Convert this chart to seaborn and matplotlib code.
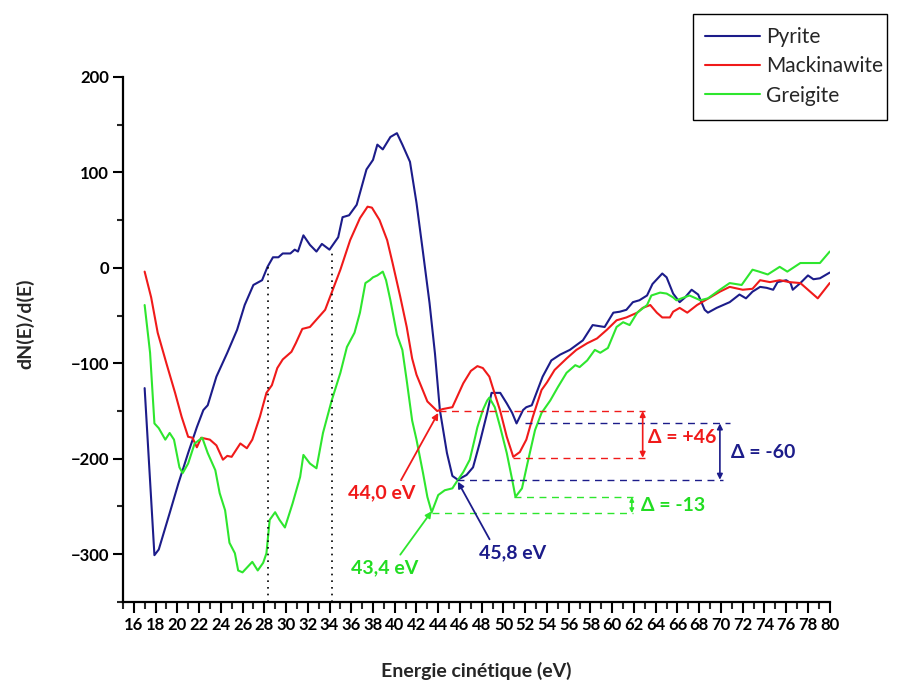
import numpy as np
import pandas as pd
import matplotlib
matplotlib.use("Agg")
import matplotlib.pyplot as plt
import seaborn as sns
from matplotlib.ticker import MultipleLocator
from matplotlib.patches import Rectangle

# ---------------- data ----------------
pyrite_x = [17.0, 17.9, 18.3, 19.3, 20.1, 21.0, 21.8, 22.4, 22.8, 23.6,
            24.6, 25.5, 26.2, 27.0, 27.8, 28.3, 28.8, 29.3, 29.7, 30.4,
            30.8, 31.1, 31.6, 32.2, 32.8, 33.3, 34.0, 34.8, 35.2, 35.8,
            36.5, 37.4, 38.0, 38.4, 38.9, 39.6, 40.2, 40.7, 41.4, 42.0,
            42.6, 43.2, 43.7, 44.15, 44.8, 45.3, 45.8, 46.6, 47.2, 47.8,
            48.5, 48.9, 49.7, 50.3, 50.8, 51.2, 51.8, 52.1, 52.6, 53.6,
            54.4, 55.2, 56.1, 57.3, 58.2, 59.3, 60.1, 60.7, 61.3, 61.9,
            62.5, 63.2, 63.7, 64.6, 65.0, 65.6, 66.2, 66.7, 67.3, 67.9,
            68.5, 68.8, 69.6, 70.8, 71.7, 72.3, 72.9, 73.6, 74.2, 74.8,
            75.2, 76.0, 76.4, 76.6, 77.3, 78.0, 78.5, 79.1, 80.0]
pyrite_y = [-126, -301, -295, -257, -226, -194, -167, -149, -144, -114,
            -89, -65, -39, -18, -13, 1, 11, 11, 15, 15,
            19, 17, 34, 24, 17, 25, 19, 32, 53, 55,
            66, 103, 113, 129, 124, 137, 141, 129, 111, 68,
            16, -37, -90, -149, -194, -218, -222, -217, -209, -184,
            -152, -131, -131, -142, -152, -163, -149, -146, -144, -114,
            -97, -91, -86, -76, -60, -62, -47, -46, -44, -36,
            -34, -29, -17, -6, -10, -27, -36, -31, -23, -28,
            -44, -47, -42, -36, -28, -32, -25, -20, -21, -23,
            -15, -13, -16, -23, -16, -8, -12, -11, -5]

mack_x = [17.0, 17.6, 18.2, 19.0, 19.8, 20.4, 21.0, 21.4, 21.8, 22.2,
          23.0, 23.6, 24.2, 24.6, 25.0, 25.8, 26.4, 26.9, 27.6, 28.2,
          28.7, 29.2, 29.7, 30.5, 30.9, 31.5, 32.2, 32.9, 33.6, 34.2,
          35.0, 35.9, 36.8, 37.5, 37.9, 38.6, 39.3, 39.8, 40.5, 41.1,
          41.6, 42.0, 43.0, 43.9, 44.4, 45.3, 46.3, 47.0, 47.6, 48.1,
          48.7, 49.0, 49.7, 50.3, 50.9, 51.5, 52.1, 52.7, 53.5, 54.0,
          54.7, 55.8, 56.7, 57.7, 58.6, 59.5, 60.4, 61.3, 62.3, 62.8,
          63.5, 64.1, 64.6, 65.3, 65.6, 66.2, 66.9, 67.8, 69.0, 69.9,
          70.8, 72.0, 72.9, 73.6, 74.5, 75.4, 76.3, 77.3, 78.2, 78.9, 80.0]
mack_y = [-4, -31, -68, -100, -131, -156, -177, -178, -188, -178,
          -180, -186, -201, -197, -198, -184, -189, -180, -156, -131,
          -123, -105, -96, -88, -79, -64, -62, -53, -44, -26,
          -2, 29, 52, 64, 63, 50, 29, 5, -30, -62,
          -95, -112, -140, -150, -148, -146, -121, -108, -103, -105,
          -114, -125, -150, -177, -198, -193, -180, -156, -128, -120,
          -107, -95, -86, -79, -74, -65, -55, -52, -47, -42,
          -39, -47, -52, -52, -46, -42, -47, -39, -31, -25,
          -20, -23, -22, -13, -15, -13, -15, -16, -25, -32, -16]

greig_x = [17.0, 17.5, 17.9, 18.3, 18.9, 19.3, 19.7, 20.2, 20.5, 21.0,
           21.6, 22.3, 22.8, 23.5, 23.9, 24.4, 24.8, 25.3, 25.6, 26.0,
           26.9, 27.4, 27.9, 28.2, 28.5, 29.0, 29.4, 29.9, 30.6, 31.3,
           31.6, 32.2, 32.8, 33.4, 33.8, 34.2, 35.0, 35.6, 36.3, 36.8,
           37.3, 37.7, 38.0, 38.4, 38.9, 39.2, 39.6, 40.2, 40.7, 41.1,
           41.6, 42.0, 42.6, 43.0, 43.4, 44.0, 44.6, 45.3, 45.7, 46.3,
           46.9, 47.4, 47.6, 48.1, 48.5, 48.7, 49.2, 49.7, 50.3, 50.8,
           51.1, 51.7, 52.2, 52.9, 53.5, 54.3, 55.0, 55.8, 56.6, 57.0,
           57.7, 58.4, 58.9, 59.6, 60.4, 61.0, 61.6, 62.3, 63.2, 63.6,
           64.4, 65.0, 65.6, 65.9, 67.1, 68.1, 68.8, 69.9, 70.8, 71.9,
           72.9, 73.5, 74.3, 75.4, 76.1, 77.3, 78.2, 79.1, 80.0]
greig_y = [-39, -89, -163, -168, -180, -173, -180, -209, -215, -205,
           -184, -178, -194, -212, -236, -254, -288, -299, -317, -319,
           -308, -317, -309, -299, -264, -256, -264, -272, -247, -219,
           -196, -205, -210, -173, -156, -139, -110, -83, -68, -47,
           -16, -13, -10, -8, -4, -13, -34, -70, -86, -118,
           -160, -180, -215, -240, -256, -238, -233, -231, -224, -214,
           -201, -177, -167, -149, -139, -136, -146, -167, -194, -222,
           -240, -231, -205, -170, -152, -139, -125, -110, -102, -104,
           -97, -86, -89, -84, -62, -57, -60, -47, -39, -29,
           -26, -27, -31, -34, -29, -34, -32, -23, -16, -18,
           -2, -4, -7, 1, -4, 5, 5, 5, 17]

series_names = ["Pyrite", "Mackinawite", "Greigite"]
x_ticks = list(range(16, 81, 2))
y_ticks = [-300, -200, -100, 0, 100, 200]

# ---------------- styling ----------------
sns.set_theme(style="ticks")
plt.rcParams["font.family"] = ["Lato", "DejaVu Sans"]

C_BLUE = "#1c1c8a"
C_RED = "#f01a1a"
C_GREEN = "#2ee62e"
C_GREEN_TXT = "#22dd22"
palette = {"Pyrite": C_BLUE, "Mackinawite": C_RED, "Greigite": C_GREEN}

df = pd.concat([
    pd.DataFrame({"E": pyrite_x, "v": pyrite_y, "s": "Pyrite"}),
    pd.DataFrame({"E": mack_x, "v": mack_y, "s": "Mackinawite"}),
    pd.DataFrame({"E": greig_x, "v": greig_y, "s": "Greigite"}),
], ignore_index=True)

W, H = 897, 686
fig = plt.figure(figsize=(W / 100, H / 100), dpi=100)
ax = fig.add_axes([0.137, 0.1225, 0.788, 0.7655])

sns.lineplot(data=df, x="E", y="v", hue="s", hue_order=series_names,
             palette=palette, estimator=None, sort=False, linewidth=1.5,
             ax=ax)

ax.set_xlim(15, 80)
ax.set_ylim(-350, 200)
ax.set_xticks(x_ticks)
ax.xaxis.set_minor_locator(MultipleLocator(1))
ax.set_yticks(y_ticks)
ax.yaxis.set_minor_locator(MultipleLocator(50))

for s in ["top", "right"]:
    ax.spines[s].set_visible(False)
for s in ["left", "bottom"]:
    ax.spines[s].set_linewidth(1.6)
    ax.spines[s].set_color("black")

ax.tick_params(axis="x", which="major", direction="out", length=8, width=1.5,
               labelsize=12, pad=3, colors="black")
ax.tick_params(axis="x", which="minor", direction="out", length=5, width=1.5)
ax.tick_params(axis="y", which="major", direction="out", length=7, width=1.5,
               labelsize=12, pad=3, colors="black")
ax.tick_params(axis="y", which="minor", direction="out", length=4, width=1.5)
for lab in ax.get_xticklabels() + ax.get_yticklabels():
    lab.set_fontweight("bold")

ax.set_xlabel("Energie cinétique (eV)", fontsize=14, fontweight="bold")
ax.set_ylabel("dN(E)/d(E)", fontsize=14, fontweight="bold")
ax.xaxis.set_label_coords(0.5, -0.115)
ax.yaxis.set_label_coords(-0.125, 0.53)

# dotted vertical markers
ax.vlines(28.3, -350, 3, colors="black", linestyles=(0, (1, 3)), linewidth=1.2)
ax.vlines(34.2, -350, 20, colors="black", linestyles=(0, (1, 3)), linewidth=1.2)

dash = (0, (5, 4))
# Mackinawite
ax.hlines(-150, 44.1, 63.0, colors=C_RED, linestyles=dash, linewidth=1.0)
ax.hlines(-199, 50.9, 63.0, colors=C_RED, linestyles=dash, linewidth=1.0)
ax.annotate("", xy=(62.8, -150), xytext=(62.8, -199),
            arrowprops=dict(arrowstyle="<|-|>", color=C_RED, lw=1.2,
                            mutation_scale=8, shrinkA=0, shrinkB=0))
ax.text(63.3, -178, "Δ = +46", color=C_RED, fontsize=14, fontweight="bold",
        va="center", ha="left")
# Pyrite
ax.hlines(-163, 52.0, 70.8, colors=C_BLUE, linestyles=dash, linewidth=1.0)
ax.hlines(-222, 45.7, 70.2, colors=C_BLUE, linestyles=dash, linewidth=1.0)
ax.annotate("", xy=(69.9, -163), xytext=(69.9, -222),
            arrowprops=dict(arrowstyle="<|-|>", color=C_BLUE, lw=1.2,
                            mutation_scale=8, shrinkA=0, shrinkB=0))
ax.text(70.9, -193, "Δ = -60", color=C_BLUE, fontsize=14, fontweight="bold",
        va="center", ha="left")
# Greigite
ax.hlines(-240, 51.0, 61.9, colors=C_GREEN, linestyles=dash, linewidth=1.0)
ax.hlines(-257, 43.4, 61.9, colors=C_GREEN, linestyles=dash, linewidth=1.0)
ax.annotate("", xy=(61.8, -240), xytext=(61.8, -257),
            arrowprops=dict(arrowstyle="<|-|>", color=C_GREEN, lw=1.2,
                            mutation_scale=6, shrinkA=0, shrinkB=0))
ax.text(62.6, -249, "Δ = -13", color=C_GREEN_TXT, fontsize=14, fontweight="bold",
        va="center", ha="left")

# energy labels with arrows
ax.annotate("44,0 eV", xy=(44.0, -152), xytext=(38.8, -236),
            color=C_RED, fontsize=14, fontweight="bold", ha="center", va="center",
            arrowprops=dict(arrowstyle="-|>", color=C_RED, lw=1.3,
                            mutation_scale=9, shrinkA=1, shrinkB=0,
                            relpos=(0.75, 1.0)))
ax.annotate("43,4 eV", xy=(43.4, -255), xytext=(39.1, -314),
            color=C_GREEN_TXT, fontsize=14, fontweight="bold", ha="center", va="center",
            arrowprops=dict(arrowstyle="-|>", color=C_GREEN, lw=1.3,
                            mutation_scale=9, shrinkA=1, shrinkB=0,
                            relpos=(0.68, 1.0)))
ax.annotate("45,8 eV", xy=(45.8, -224), xytext=(50.8, -298),
            color=C_BLUE, fontsize=14, fontweight="bold", ha="center", va="center",
            arrowprops=dict(arrowstyle="-|>", color=C_BLUE, lw=1.3,
                            mutation_scale=9, shrinkA=1, shrinkB=0,
                            relpos=(0.2, 1.0)))

# legend outside the axes, top right of the figure (frame drawn separately)
handles, labels = ax.get_legend_handles_labels()
ax.get_legend().remove()
leg = fig.legend(handles, labels, loc="upper left",
                 bbox_to_anchor=(705 / W, 1 - 27 / H), bbox_transform=fig.transFigure,
                 fontsize=15, frameon=False,
                 handlelength=2.65, handletextpad=0.3, labelspacing=0.45,
                 borderpad=0, borderaxespad=0)
for h in leg.get_lines():
    h.set_linewidth(1.5)
fig.add_artist(Rectangle((693 / W, 1 - 120 / H), 194 / W, 106 / H,
                         transform=fig.transFigure, fill=False,
                         edgecolor="black", linewidth=1.0))

fig.savefig("out.png", dpi=100)
